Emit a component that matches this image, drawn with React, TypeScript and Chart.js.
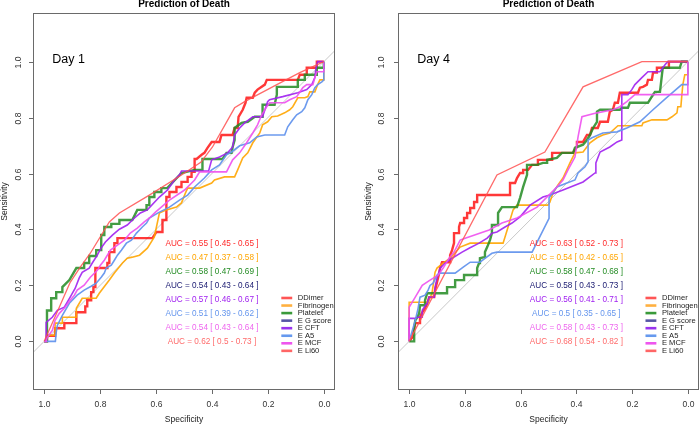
import React, { useEffect, useRef } from "react";
import { Chart, registerables } from "chart.js";

Chart.register(...registerables);

type Pt = [number, number]; // [specificity, sensitivity]

const seriesNames = ["DDimer", "Fibrinogen", "Platelet", "E G score", "E CFT", "E A5", "E MCF", "E Li60"];
const lineColors = [
  "rgba(255,0,0,0.78)",
  "rgba(255,165,0,0.9)",
  "rgba(34,139,34,0.85)",
  "rgba(25,25,112,0.8)",
  "rgba(160,32,240,0.9)",
  "rgba(100,149,237,0.95)",
  "rgba(238,80,238,0.9)",
  "rgba(255,80,80,0.85)",
];
const textColors = ["#FF2A2A", "#FFA500", "#228B22", "#191970", "#A020F0", "#6495ED", "#EE66EE", "#FF6A6A"];
const legendColors = ["#FF5555", "#FFB040", "#3A9A3A", "#5555A5", "#9933EE", "#6699EE", "#EE55EE", "#FF6666"];
const lineWidths = [2.4, 1.6, 2.4, 1.6, 1.6, 1.6, 1.6, 1.3];

const xTicks = [1.0, 0.8, 0.6, 0.4, 0.2, 0.0];
const yTicks = [0.0, 0.2, 0.4, 0.6, 0.8, 1.0];

const d1Auc = [0.55, 0.47, 0.58, 0.54, 0.57, 0.51, 0.54, 0.62];
const d1Low = [0.45, 0.37, 0.47, 0.43, 0.46, 0.39, 0.43, 0.5];
const d1High = [0.65, 0.58, 0.69, 0.64, 0.67, 0.62, 0.64, 0.73];
const d4Auc = [0.63, 0.54, 0.58, 0.58, 0.56, 0.5, 0.58, 0.68];
const d4Low = [0.52, 0.42, 0.47, 0.43, 0.41, 0.35, 0.43, 0.54];
const d4High = [0.73, 0.65, 0.68, 0.73, 0.71, 0.65, 0.73, 0.82];

// ---------- Day 1 curves ----------
const d1DDimer: Pt[] = [[1,0],[0.99,0],[0.99,0.02],[0.961,0.02],[0.961,0.047],[0.928,0.047],[0.928,0.065],[0.885,0.065],[0.885,0.104],[0.853,0.104],[0.853,0.125],[0.846,0.125],[0.846,0.147],[0.832,0.147],[0.832,0.176],[0.824,0.176],[0.824,0.194],[0.817,0.194],[0.817,0.262],[0.774,0.262],[0.774,0.28],[0.767,0.28],[0.767,0.319],[0.749,0.319],[0.749,0.351],[0.738,0.351],[0.738,0.369],[0.613,0.369],[0.599,0.391],[0.577,0.391],[0.577,0.434],[0.563,0.434],[0.563,0.516],[0.552,0.516],[0.552,0.534],[0.527,0.534],[0.527,0.552],[0.509,0.552],[0.509,0.57],[0.487,0.57],[0.487,0.588],[0.473,0.588],[0.473,0.606],[0.462,0.606],[0.462,0.652],[0.455,0.652],[0.437,0.667],[0.427,0.674],[0.416,0.692],[0.401,0.713],[0.373,0.713],[0.366,0.738],[0.326,0.738],[0.319,0.763],[0.308,0.763],[0.305,0.803],[0.29,0.828],[0.28,0.853],[0.276,0.871],[0.254,0.871],[0.247,0.889],[0.237,0.9],[0.211,0.918],[0.204,0.935],[0.093,0.935],[0.086,0.953],[0.061,0.953],[0.061,0.978],[0.025,0.978],[0.025,1],[0,1]];
const d1Fibrinogen: Pt[] = [[1,0],[0.99,0],[0.99,0.022],[0.961,0.022],[0.961,0.065],[0.935,0.065],[0.935,0.086],[0.885,0.086],[0.885,0.118],[0.864,0.154],[0.814,0.154],[0.803,0.172],[0.767,0.219],[0.749,0.244],[0.72,0.28],[0.703,0.297],[0.685,0.301],[0.659,0.308],[0.631,0.333],[0.613,0.362],[0.606,0.373],[0.588,0.459],[0.563,0.47],[0.527,0.48],[0.509,0.495],[0.495,0.53],[0.487,0.548],[0.444,0.548],[0.401,0.566],[0.391,0.577],[0.355,0.588],[0.319,0.588],[0.308,0.613],[0.29,0.656],[0.272,0.674],[0.254,0.71],[0.229,0.745],[0.219,0.774],[0.201,0.785],[0.186,0.803],[0.165,0.806],[0.14,0.817],[0.122,0.828],[0.111,0.839],[0.093,0.871],[0.068,0.871],[0.057,0.875],[0.05,0.892],[0.032,0.892],[0.025,0.91],[0.022,0.918],[0.014,0.935],[0,0.935],[0,1]];
const d1Platelet: Pt[] = [[1,0],[0.99,0],[0.99,0.11],[0.975,0.11],[0.975,0.154],[0.957,0.154],[0.957,0.176],[0.935,0.176],[0.935,0.194],[0.91,0.219],[0.885,0.262],[0.857,0.262],[0.857,0.28],[0.839,0.28],[0.839,0.305],[0.814,0.305],[0.814,0.326],[0.796,0.326],[0.796,0.38],[0.785,0.38],[0.785,0.409],[0.76,0.409],[0.76,0.42],[0.731,0.42],[0.731,0.434],[0.685,0.434],[0.667,0.47],[0.634,0.47],[0.634,0.487],[0.624,0.487],[0.624,0.516],[0.606,0.516],[0.606,0.534],[0.581,0.534],[0.581,0.548],[0.56,0.548],[0.509,0.602],[0.462,0.613],[0.434,0.613],[0.434,0.652],[0.362,0.652],[0.348,0.674],[0.33,0.674],[0.326,0.695],[0.319,0.72],[0.319,0.763],[0.294,0.781],[0.272,0.785],[0.247,0.803],[0.219,0.803],[0.219,0.846],[0.176,0.846],[0.168,0.882],[0.168,0.91],[0.093,0.91],[0.093,0.935],[0.068,0.935],[0.068,0.953],[0.025,0.953],[0.025,0.978],[0,0.978],[0,1]];
const d1EGscore: Pt[] = [];
const d1ECFT: Pt[] = [[1,0],[0.993,0],[0.993,0.068],[0.971,0.086],[0.953,0.111],[0.928,0.122],[0.907,0.158],[0.889,0.19],[0.875,0.226],[0.864,0.247],[0.839,0.262],[0.828,0.28],[0.81,0.308],[0.799,0.33],[0.781,0.355],[0.756,0.38],[0.731,0.401],[0.703,0.416],[0.677,0.441],[0.656,0.459],[0.631,0.47],[0.588,0.516],[0.559,0.541],[0.534,0.577],[0.516,0.595],[0.509,0.609],[0.412,0.609],[0.401,0.649],[0.373,0.659],[0.344,0.674],[0.326,0.695],[0.319,0.738],[0.301,0.763],[0.283,0.781],[0.254,0.803],[0.219,0.803],[0.201,0.857],[0.194,0.864],[0.147,0.875],[0.093,0.889],[0.061,0.9],[0.043,0.918],[0.032,0.943],[0.029,0.971],[0.022,1],[0,1]];
const d1EA5: Pt[] = [[1,0],[0.96,0],[0.957,0.032],[0.953,0.057],[0.935,0.093],[0.91,0.136],[0.882,0.165],[0.857,0.183],[0.832,0.197],[0.814,0.208],[0.796,0.229],[0.785,0.244],[0.778,0.262],[0.76,0.272],[0.749,0.29],[0.738,0.308],[0.724,0.326],[0.706,0.351],[0.688,0.362],[0.67,0.387],[0.659,0.398],[0.649,0.409],[0.634,0.423],[0.624,0.441],[0.588,0.462],[0.552,0.48],[0.516,0.505],[0.487,0.523],[0.462,0.552],[0.427,0.584],[0.401,0.613],[0.373,0.631],[0.348,0.667],[0.33,0.677],[0.301,0.699],[0.265,0.71],[0.24,0.731],[0.211,0.738],[0.14,0.738],[0.129,0.767],[0.111,0.792],[0.097,0.81],[0.079,0.821],[0.068,0.835],[0.057,0.864],[0.043,0.882],[0.032,0.907],[0.022,0.918],[0.007,0.928],[0,0.935],[0,1]];
const d1EMCF: Pt[] = [[1,0],[0.993,0],[0.989,0.014],[0.971,0.039],[0.961,0.075],[0.946,0.1],[0.928,0.118],[0.907,0.147],[0.892,0.165],[0.882,0.183],[0.857,0.201],[0.835,0.229],[0.81,0.254],[0.799,0.272],[0.785,0.29],[0.763,0.326],[0.738,0.344],[0.713,0.362],[0.692,0.387],[0.667,0.405],[0.642,0.427],[0.62,0.444],[0.602,0.462],[0.552,0.505],[0.498,0.541],[0.462,0.577],[0.444,0.606],[0.348,0.606],[0.326,0.649],[0.301,0.674],[0.276,0.71],[0.254,0.745],[0.237,0.774],[0.222,0.81],[0.204,0.839],[0.194,0.853],[0.14,0.853],[0.122,0.864],[0.097,0.875],[0.075,0.907],[0.061,0.918],[0.039,0.918],[0.032,0.943],[0.025,0.964],[0,0.964],[0,1]];
const d1ELi60: Pt[] = [[1,0],[0.946,0.122],[0.907,0.211],[0.871,0.265],[0.835,0.315],[0.767,0.427],[0.731,0.459],[0.624,0.523],[0.509,0.595],[0.44,0.64],[0.398,0.695],[0.319,0.835],[0.283,0.857],[0.168,0.918],[0.086,0.961],[0,1]];

// ---------- Day 4 curves ----------
const d4DDimer: Pt[] = [[1,0],[0.989,0.014],[0.978,0.065],[0.961,0.065],[0.961,0.086],[0.953,0.104],[0.943,0.118],[0.935,0.136],[0.928,0.158],[0.91,0.158],[0.907,0.183],[0.9,0.211],[0.892,0.244],[0.889,0.262],[0.882,0.283],[0.853,0.283],[0.853,0.308],[0.846,0.326],[0.839,0.351],[0.839,0.387],[0.821,0.387],[0.821,0.409],[0.817,0.423],[0.803,0.423],[0.803,0.441],[0.792,0.441],[0.792,0.459],[0.781,0.459],[0.781,0.477],[0.767,0.477],[0.767,0.498],[0.756,0.498],[0.756,0.523],[0.638,0.523],[0.638,0.566],[0.62,0.566],[0.613,0.584],[0.602,0.602],[0.591,0.602],[0.591,0.613],[0.573,0.613],[0.559,0.631],[0.538,0.631],[0.538,0.649],[0.487,0.649],[0.487,0.674],[0.412,0.674],[0.398,0.695],[0.398,0.713],[0.376,0.713],[0.362,0.738],[0.351,0.738],[0.344,0.763],[0.323,0.763],[0.315,0.785],[0.287,0.785],[0.28,0.821],[0.269,0.828],[0.262,0.853],[0.251,0.853],[0.244,0.889],[0.179,0.889],[0.172,0.907],[0.161,0.91],[0.147,0.918],[0.143,0.935],[0.129,0.935],[0.125,0.961],[0.111,0.961],[0.111,0.978],[0.068,0.978],[0.068,1],[0,1]];
const d4Fibrinogen: Pt[] = [[1,0],[1,0.14],[0.932,0.14],[0.918,0.172],[0.907,0.247],[0.9,0.262],[0.878,0.28],[0.853,0.297],[0.817,0.337],[0.781,0.351],[0.663,0.351],[0.656,0.373],[0.645,0.409],[0.638,0.434],[0.627,0.47],[0.613,0.487],[0.502,0.487],[0.495,0.498],[0.484,0.53],[0.466,0.559],[0.448,0.584],[0.423,0.638],[0.405,0.674],[0.376,0.677],[0.351,0.71],[0.326,0.728],[0.305,0.738],[0.28,0.745],[0.251,0.771],[0.165,0.771],[0.161,0.781],[0.129,0.792],[0.075,0.792],[0.057,0.803],[0.039,0.817],[0.036,0.839],[0.025,0.839],[0.022,0.875],[0.018,0.918],[0.011,0.953],[0,0.953],[0,1]];
const d4Platelet: Pt[] = [[1,0],[0.982,0],[0.982,0.047],[0.978,0.075],[0.971,0.086],[0.964,0.1],[0.961,0.129],[0.943,0.129],[0.943,0.147],[0.935,0.172],[0.864,0.172],[0.864,0.194],[0.835,0.194],[0.835,0.219],[0.803,0.219],[0.803,0.237],[0.756,0.237],[0.756,0.262],[0.749,0.28],[0.746,0.297],[0.731,0.301],[0.728,0.319],[0.72,0.337],[0.71,0.362],[0.703,0.387],[0.703,0.416],[0.681,0.416],[0.681,0.459],[0.667,0.48],[0.613,0.48],[0.602,0.513],[0.591,0.552],[0.577,0.595],[0.577,0.631],[0.541,0.631],[0.52,0.638],[0.505,0.638],[0.505,0.649],[0.47,0.656],[0.452,0.674],[0.412,0.674],[0.405,0.692],[0.376,0.703],[0.362,0.72],[0.351,0.738],[0.34,0.763],[0.326,0.785],[0.326,0.821],[0.315,0.828],[0.244,0.828],[0.237,0.835],[0.215,0.835],[0.208,0.853],[0.143,0.853],[0.136,0.864],[0.125,0.882],[0.118,0.892],[0.1,0.892],[0.093,0.953],[0.09,0.978],[0.029,0.978],[0.022,1],[0,1]];
const d4EGscore: Pt[] = [];
const d4ECFT: Pt[] = [[1,0],[1,0.082],[0.982,0.082],[0.968,0.086],[0.953,0.086],[0.953,0.111],[0.946,0.122],[0.935,0.136],[0.928,0.158],[0.91,0.158],[0.907,0.194],[0.9,0.226],[0.889,0.262],[0.871,0.28],[0.846,0.297],[0.81,0.319],[0.785,0.333],[0.749,0.351],[0.72,0.369],[0.703,0.387],[0.685,0.391],[0.656,0.409],[0.631,0.423],[0.602,0.445],[0.566,0.487],[0.52,0.516],[0.495,0.523],[0.448,0.541],[0.376,0.57],[0.333,0.602],[0.33,0.638],[0.315,0.677],[0.28,0.695],[0.254,0.713],[0.237,0.72],[0.237,0.882],[0.215,0.882],[0.201,0.9],[0.19,0.918],[0.165,0.943],[0.143,0.964],[0.1,0.964],[0.082,0.989],[0.072,1],[0,1]];
const d4EA5: Pt[] = [[1,0],[0.996,0.014],[0.978,0.075],[0.968,0.118],[0.961,0.158],[0.943,0.165],[0.932,0.183],[0.925,0.2],[0.914,0.208],[0.9,0.237],[0.889,0.244],[0.835,0.244],[0.806,0.265],[0.781,0.283],[0.746,0.283],[0.728,0.297],[0.703,0.315],[0.685,0.319],[0.559,0.319],[0.498,0.44],[0.498,0.513],[0.47,0.552],[0.434,0.566],[0.405,0.577],[0.394,0.602],[0.369,0.624],[0.358,0.642],[0.358,0.72],[0.344,0.728],[0.305,0.745],[0.254,0.749],[0.219,0.763],[0.172,0.785],[0.125,0.828],[0.072,0.875],[0.022,0.918],[0,0.918],[0,1]];
const d4EMCF: Pt[] = [[1,0],[1,0.122],[0.978,0.158],[0.953,0.2],[0.925,0.219],[0.896,0.237],[0.878,0.262],[0.857,0.297],[0.839,0.319],[0.817,0.362],[0.799,0.369],[0.713,0.398],[0.667,0.423],[0.613,0.441],[0.541,0.48],[0.47,0.552],[0.448,0.577],[0.43,0.613],[0.405,0.659],[0.394,0.731],[0.38,0.803],[0.326,0.817],[0.269,0.828],[0.244,0.839],[0.219,0.857],[0.19,0.882],[0,0.882],[0,1]];
const d4ELi60: Pt[] = [[1,0],[0.685,0.595],[0.513,0.677],[0.376,0.91],[0.165,1],[0,1]];

const day1Curves = [d1DDimer, d1Fibrinogen, d1Platelet, d1EGscore, d1ECFT, d1EA5, d1EMCF, d1ELi60];
const day4Curves = [d4DDimer, d4Fibrinogen, d4Platelet, d4EGscore, d4ECFT, d4EA5, d4EMCF, d4ELi60];

const FONT = '"Liberation Sans", Arial, Helvetica, sans-serif';

interface PanelProps {
  left: number;
  curves: Pt[][];
  auc: number[];
  low: number[];
  high: number[];
  day: string;
  pad: { left: number; right: number; top: number; bottom: number };
  yTickX: number;
  yLabX: number;
}

function Panel(props: PanelProps) {
  const ref = useRef<HTMLCanvasElement>(null);
  useEffect(() => {
    const canvas = ref.current;
    if (!canvas) return;
    const datasets: any[] = [
      {
        data: [{ x: 1.04, y: -0.04 }, { x: -0.04, y: 1.04 }],
        borderColor: "#C8C8C8",
        borderWidth: 1,
        pointRadius: 0,
        fill: false,
        order: 100,
      },
    ];
    props.curves.forEach((c, i) => {
      datasets.push({
        data: c.map(([x, y]) => ({ x, y })),
        borderColor: lineColors[i],
        borderWidth: lineWidths[i],
        pointRadius: 0,
        fill: false,
        tension: 0,
        borderJoinStyle: "miter",
        order: 8 - i,
      });
    });

    const decor = {
      id: "decor",
      afterDraw(chart: any) {
        const ctx: CanvasRenderingContext2D = chart.ctx;
        const xs = chart.scales.x;
        const ys = chart.scales.y;
        const a = chart.chartArea;
        ctx.save();
        // box
        ctx.strokeStyle = "#6a6a6a";
        ctx.lineWidth = 1;
        ctx.strokeRect(a.left + 0.5, a.top + 0.5, a.right - a.left - 1, a.bottom - a.top - 1);
        // x ticks
        ctx.fillStyle = "#333";
        ctx.font = `8.5px ${FONT}`;
        ctx.textAlign = "center";
        ctx.textBaseline = "middle";
        xTicks.forEach((t) => {
          const px = Math.round(xs.getPixelForValue(t)) + 0.5;
          ctx.beginPath();
          ctx.moveTo(px, a.bottom);
          ctx.lineTo(px, a.bottom + 4);
          ctx.stroke();
          ctx.fillText(t.toFixed(1), px, a.bottom + 15);
        });
        // y ticks
        yTicks.forEach((t) => {
          const py = Math.round(ys.getPixelForValue(t)) + 0.5;
          ctx.beginPath();
          ctx.moveTo(a.left, py);
          ctx.lineTo(a.left - 4, py);
          ctx.stroke();
          ctx.save();
          ctx.translate(props.yTickX, py);
          ctx.rotate(-Math.PI / 2);
          ctx.fillText(t.toFixed(1), 0, 0);
          ctx.restore();
        });
        // axis titles
        ctx.fillStyle = "#222";
        ctx.font = `8.5px ${FONT}`;
        ctx.fillText("Specificity", xs.getPixelForValue(0.5), a.bottom + 30);
        ctx.save();
        ctx.translate(props.yLabX, (a.top + a.bottom) / 2);
        ctx.rotate(-Math.PI / 2);
        ctx.fillText("Sensitivity", 0, 0);
        ctx.restore();
        // title
        ctx.fillStyle = "#000";
        ctx.font = `bold 10px ${FONT}`;
        ctx.textBaseline = "alphabetic";
        ctx.fillText("Prediction of Death", (a.left + a.right) / 2, 7);
        // day label
        ctx.font = `12.5px ${FONT}`;
        ctx.textAlign = "left";
        ctx.textBaseline = "middle";
        ctx.fillText(props.day, xs.getPixelForValue(0.971), ys.getPixelForValue(1.007));
        // AUC texts
        ctx.font = `8.2px ${FONT}`;
        ctx.textAlign = "center";
        seriesNames.forEach((_, i) => {
          ctx.fillStyle = textColors[i];
          const txt = `AUC = ${props.auc[i]} [ ${props.low[i]} - ${props.high[i]} ]`;
          ctx.fillText(txt, xs.getPixelForValue(0.4), ys.getPixelForValue(0.35 - 0.05 * i));
        });
        // legend
        ctx.font = `7.6px ${FONT}`;
        ctx.textAlign = "left";
        seriesNames.forEach((name, i) => {
          const py = ys.getPixelForValue(0.155 - 0.027 * i);
          ctx.strokeStyle = legendColors[i];
          ctx.lineWidth = 2.6;
          ctx.beginPath();
          ctx.moveTo(xs.getPixelForValue(0.152), py);
          ctx.lineTo(xs.getPixelForValue(0.113), py);
          ctx.stroke();
          ctx.fillStyle = "#222";
          ctx.fillText(name, xs.getPixelForValue(0.093), py);
        });
        ctx.restore();
      },
    };

    const chart = new Chart(canvas, {
      type: "line",
      data: { datasets },
      options: {
        animation: false,
        responsive: false,
        maintainAspectRatio: false,
        layout: { padding: props.pad },
        plugins: {
          legend: { display: false },
          tooltip: { enabled: false },
          title: { display: false },
        },
        scales: {
          x: { type: "linear", reverse: true, min: -0.04, max: 1.04, display: false },
          y: { type: "linear", min: -0.174, max: 1.174, display: false },
        },
        elements: { point: { radius: 0 }, line: { tension: 0 } },
      } as any,
      plugins: [decor],
    });
    return () => chart.destroy();
  }, []);
  return (
    <canvas
      ref={ref}
      width={350}
      height={425}
      style={{ position: "absolute", left: props.left, top: 0, width: 350, height: 425, display: "block" }}
    />
  );
}

export default function App() {
  return (
    <div style={{ position: "absolute", left: 0, top: 0, width: 700, height: 425, background: "#fff", overflow: "hidden" }}>
      <Panel
        left={0}
        curves={day1Curves}
        auc={d1Auc}
        low={d1Low}
        high={d1High}
        day="Day 1"
        pad={{ left: 33, right: 15, top: 13, bottom: 35 }}
        yTickX={19}
        yLabX={5}
      />
      <Panel
        left={350}
        curves={day4Curves}
        auc={d4Auc}
        low={d4Low}
        high={d4High}
        day="Day 4"
        pad={{ left: 48, right: 1, top: 13, bottom: 35 }}
        yTickX={32}
        yLabX={19}
      />
    </div>
  );
}
